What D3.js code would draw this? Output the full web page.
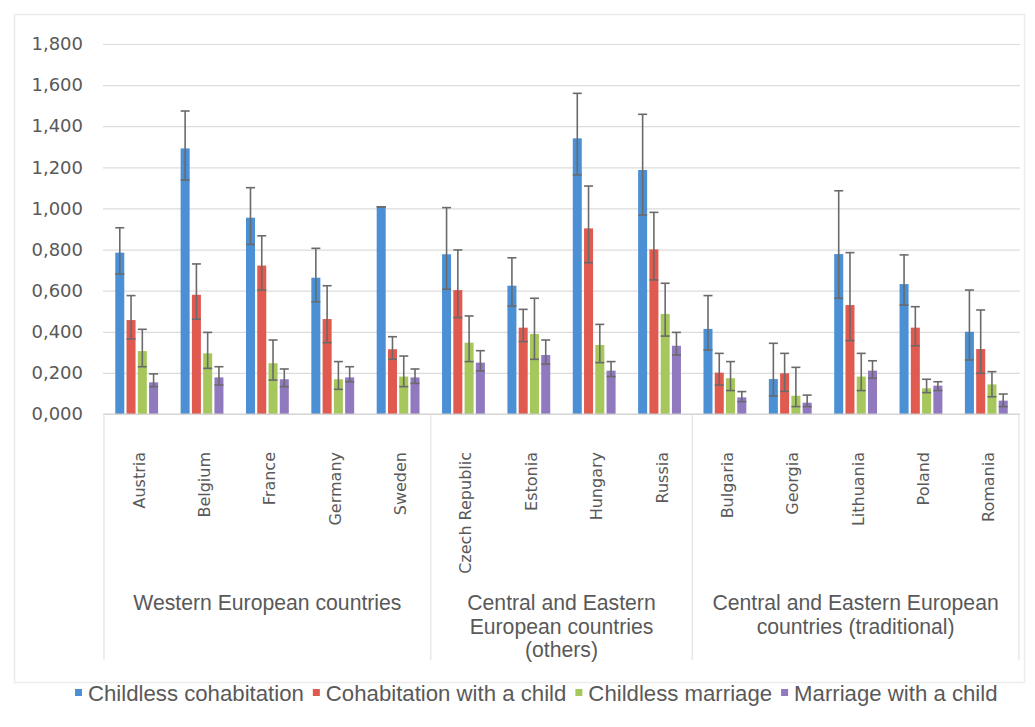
<!DOCTYPE html>
<html>
<head>
<meta charset="utf-8">
<script src="https://cdn.jsdelivr.net/npm/d3@7"></script>
<style>
  html, body { margin: 0; padding: 0; background: #fff; }
  svg { display: block; }
</style>
</head>
<body>
<svg id="chart" width="1035" height="727"></svg>
<script>
// ---------- data ----------
const countries = ["Austria","Belgium","France","Germany","Sweden","Czech Republic","Estonia","Hungary","Russia","Bulgaria","Georgia","Lithuania","Poland","Romania"];
const groupLabels = [["Western European countries"],["Central and Eastern","European countries","(others)"],["Central and Eastern European","countries (traditional)"]];
const groupSizes = [5, 4, 5];
const seriesNames = ["Childless cohabitation","Cohabitation with a child","Childless marriage","Marriage with a child"];
const seriesColors = ["#4b90d5","#e05a50","#a6c75c","#9079bf"];
const yTicks = [0, 0.2, 0.4, 0.6, 0.8, 1.0, 1.2, 1.4, 1.6, 1.8];

const childlessCohab      = [0.785,1.292,0.955,0.663,1.008,0.777,0.624,1.341,1.187,0.414,0.170,0.778,0.632,0.400];
const childlessCohabLow   = [0.681,1.138,0.825,0.546,1.008,0.607,0.525,1.163,0.968,0.311,0.088,0.563,0.530,0.263];
const childlessCohabHigh  = [0.906,1.474,1.101,0.806,1.008,1.004,0.760,1.560,1.458,0.576,0.344,1.086,0.774,0.603];

const cohabChild          = [0.457,0.580,0.722,0.462,0.315,0.603,0.420,0.903,0.801,0.201,0.198,0.530,0.420,0.316];
const cohabChildLow       = [0.365,0.461,0.603,0.347,0.266,0.469,0.352,0.736,0.652,0.141,0.110,0.357,0.332,0.198];
const cohabChildHigh      = [0.576,0.730,0.867,0.624,0.376,0.798,0.509,1.109,0.981,0.295,0.295,0.785,0.522,0.506];

const childlessMarriage     = [0.306,0.295,0.247,0.169,0.182,0.347,0.389,0.336,0.487,0.174,0.089,0.182,0.125,0.144];
const childlessMarriageLow  = [0.230,0.222,0.165,0.120,0.133,0.255,0.266,0.250,0.379,0.114,0.036,0.114,0.104,0.084];
const childlessMarriageHigh = [0.412,0.397,0.360,0.255,0.282,0.477,0.563,0.436,0.636,0.255,0.227,0.295,0.169,0.206];

const marriageChild       = [0.154,0.178,0.169,0.178,0.178,0.250,0.287,0.211,0.332,0.081,0.055,0.211,0.138,0.065];
const marriageChildLow    = [0.133,0.141,0.133,0.157,0.149,0.209,0.243,0.182,0.287,0.060,0.036,0.174,0.114,0.036];
const marriageChildHigh   = [0.195,0.230,0.219,0.230,0.219,0.308,0.360,0.255,0.397,0.109,0.092,0.259,0.157,0.097];

const seriesValues = [childlessCohab, cohabChild, childlessMarriage, marriageChild];
const seriesLow = [childlessCohabLow, cohabChildLow, childlessMarriageLow, marriageChildLow];
const seriesHigh = [childlessCohabHigh, cohabChildHigh, childlessMarriageHigh, marriageChildHigh];

// ---------- layout ----------
const svg = d3.select("#chart");
const plotLeft = 104, plotRight = 1019, plotTop = 44, plotBottom = 414;
const textColor = "#595959";

const x0 = d3.scaleBand().domain(countries).range([plotLeft, plotRight]).paddingInner(0).paddingOuter(0);
const x1 = d3.scaleBand().domain(seriesNames).range([0, x0.bandwidth()]).paddingInner(0.2).paddingOuter(1.0);
const y = d3.scaleLinear().domain([0, 1.8]).range([plotBottom, plotTop]);

// outer frame (faint)
svg.append("rect").attr("x", 14.5).attr("y", 14.5).attr("width", 1010).attr("height", 668)
  .attr("fill", "none").attr("stroke", "#ececec").attr("stroke-width", 1.5);

// gridlines + y axis
const fmt = v => d3.format(".3f")(v).replace(".", ",");
const yAxis = d3.axisLeft(y).tickValues(yTicks).tickFormat(fmt).tickSize(-(plotRight - plotLeft + 2)).tickPadding(20);
const gy = svg.append("g").attr("transform", `translate(${plotLeft - 1},0)`).call(yAxis);
gy.select(".domain").remove();
gy.selectAll(".tick line").attr("stroke", "#dcdcdc").attr("stroke-width", 1.2);
gy.selectAll(".tick text").attr("fill", textColor).style("font-family", "'DejaVu Sans', sans-serif").style("font-size", "18px");

// bars
const barData = [];
countries.forEach((c, i) => {
  seriesNames.forEach((s, j) => {
    barData.push({c, s, j, v: seriesValues[j][i], lo: seriesLow[j][i], hi: seriesHigh[j][i]});
  });
});

svg.append("g").selectAll("rect").data(barData).join("rect")
  .attr("x", d => x0(d.c) + x1(d.s))
  .attr("y", d => y(d.v))
  .attr("width", x1.bandwidth())
  .attr("height", d => y(0) - y(d.v))
  .attr("fill", d => seriesColors[d.j]);

// error bars
const eb = svg.append("g").attr("stroke", "#6a6a6a").attr("stroke-width", 1.6).attr("fill", "none");
const capW = 9;
barData.forEach(d => {
  const cx = x0(d.c) + x1(d.s) + x1.bandwidth() / 2;
  eb.append("line").attr("x1", cx).attr("x2", cx).attr("y1", y(d.lo)).attr("y2", y(d.hi));
  eb.append("line").attr("x1", cx - capW / 2).attr("x2", cx + capW / 2).attr("y1", y(d.hi)).attr("y2", y(d.hi));
  eb.append("line").attr("x1", cx - capW / 2).attr("x2", cx + capW / 2).attr("y1", y(d.lo)).attr("y2", y(d.lo));
});

// x axis baseline
svg.append("line").attr("x1", plotLeft - 1).attr("x2", plotRight + 1).attr("y1", y(0)).attr("y2", y(0))
  .attr("stroke", "#d0d0d0").attr("stroke-width", 1.2);

// category labels (rotated)
svg.append("g").selectAll("text").data(countries).join("text")
  .attr("transform", d => `translate(${x0(d) + x0.bandwidth() / 2},452) rotate(-90)`)
  .attr("text-anchor", "end")
  .attr("dy", "0.5em")
  .attr("fill", textColor)
  .style("font-family", "'DejaVu Sans', sans-serif")
  .style("font-size", "16px")
  .text(d => d);

// group separators and labels
let idx = 0;
const sepXs = [plotLeft];
groupSizes.forEach(n => { idx += n; sepXs.push(idx < countries.length ? x0(countries[idx]) : plotRight); });
svg.append("g").selectAll("line").data(sepXs).join("line")
  .attr("x1", d => d).attr("x2", d => d).attr("y1", y(0)).attr("y2", 660)
  .attr("stroke", "#e2e2e2").attr("stroke-width", 1.2);

groupLabels.forEach((lines, g) => {
  const cx = (sepXs[g] + sepXs[g + 1]) / 2;
  const t = svg.append("text").attr("text-anchor", "middle").attr("fill", textColor)
    .style("font-family", "'Liberation Sans', Arial, sans-serif").style("font-size", "21.2px");
  lines.forEach((ln, k) => {
    t.append("tspan").attr("x", cx).attr("y", 610 + k * 23.5).text(ln);
  });
});

// legend
const legend = svg.append("g");
let lx = 75;
const ly = 693;
seriesNames.forEach((s, j) => {
  legend.append("rect").attr("x", lx).attr("y", ly - 4).attr("width", 7).attr("height", 7).attr("fill", seriesColors[j]);
  const t = legend.append("text").attr("x", lx + 13).attr("y", ly).attr("dy", "0.35em")
    .attr("fill", textColor)
    .style("font-family", "'Liberation Sans', Arial, sans-serif").style("font-size", "22.2px")
    .text(s);
  lx += 13 + t.node().getComputedTextLength() + 9;
});
</script>
</body>
</html>
